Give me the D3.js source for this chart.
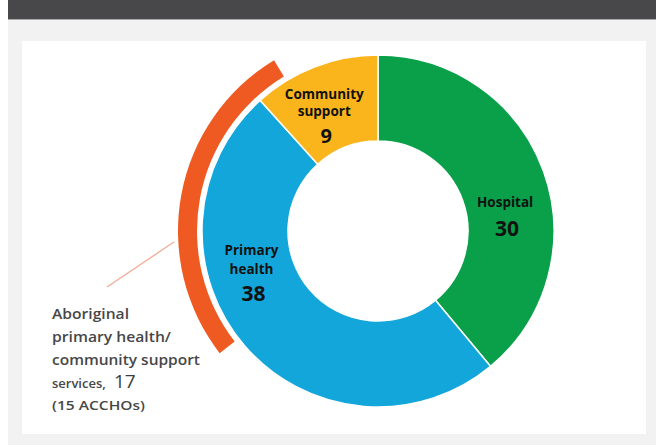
<!DOCTYPE html>
<html>
<head>
<meta charset="utf-8">
<script src="https://cdn.jsdelivr.net/npm/d3@7"></script>
<style>
  body { margin: 0; background: #fff; }
  svg { display: block; }
</style>
</head>
<body>
<svg id="drawspace" width="656" height="445"></svg>
<script>
let drawSpace = d3.select("#drawspace");

// services by type
let categories = ["Hospital", "Primary health", "Community support"];
let labelLines = [["Hospital"], ["Primary", "health"], ["Community", "support"]];
let values = [30, 38, 9];
let colors = ["#0aa04a", "#13a6da", "#f9b51b"];

// Aboriginal services arc, placed on the same count scale (start/end along the ring)
let aboriginalValue = 17;
let aboriginalNote = "(15 ACCHOs)";
let aboriginalLines = ["Aboriginal", "primary health/", "community support", "services,"];
let aboriginalSpan = [49.7, 70.3];

let drawSpaceW = 656;
let drawSpaceH = 445;

// page frame
drawSpace.append("rect")
  .attr("x", 8).attr("y", 0)
  .attr("width", drawSpaceW - 8).attr("height", drawSpaceH)
  .attr("fill", "#f2f2f2");
drawSpace.append("rect")
  .attr("x", 8).attr("y", 0)
  .attr("width", drawSpaceW - 8).attr("height", 19)
  .attr("fill", "#48484a");
drawSpace.append("rect")
  .attr("x", 8).attr("y", 19)
  .attr("width", drawSpaceW - 8).attr("height", 1)
  .attr("fill", "#a8a8a8");
drawSpace.append("rect")
  .attr("x", 22).attr("y", 41)
  .attr("width", 624).attr("height", 393)
  .attr("fill", "#ffffff");

let cx = 378, cy = 231;
let total = d3.sum(values);

let angle = d3.scaleLinear().domain([0, total]).range([0, 2 * Math.PI]);

let pie = d3.pie().sort(null).value(d => d.value)
  .startAngle(0).endAngle(2 * Math.PI);

let slices = pie(values.map((v, i) => ({ name: categories[i], value: v, lines: labelLines[i], color: colors[i] })));

let arc = d3.arc().innerRadius(90).outerRadius(176);

let g = drawSpace.append("g").attr("transform", `translate(${cx},${cy})`);

g.selectAll("path.slice")
  .data(slices)
  .enter()
  .append("path")
  .attr("class", "slice")
  .attr("d", arc)
  .attr("fill", d => d.data.color)
  .attr("stroke", "#ffffff")
  .attr("stroke-width", 1.5)
  .append("title")
  .text(d => `${d.data.name}: ${d.data.value}`);

// label positions inside each slice
let labelArc = d3.arc().innerRadius(133).outerRadius(133);
let labelOffset = {
  "Hospital": [2, 23],
  "Primary health": [-26, -42],
  "Community support": [-6, 11]
};
let lineGap = { "Hospital": 17, "Primary health": 19, "Community support": 16.5 };

slices.forEach(d => {
  let c = labelArc.centroid(d);
  let off = labelOffset[d.data.name];
  let lx = c[0] + off[0], ly = c[1] + off[1];
  let n = d.data.lines.length;
  let t = g.append("g").attr("transform", `translate(${lx},${ly})`);
  d.data.lines.forEach((line, i) => {
    t.append("text")
      .attr("x", 0)
      .attr("y", (i - n + 1) * lineGap[d.data.name] - 2)
      .attr("text-anchor", "middle")
      .attr("font-family", "Open Sans, sans-serif")
      .attr("font-weight", 700)
      .attr("font-size", 13.5)
      .attr("fill", "#111")
      .text(line);
  });
  t.append("text")
    .attr("x", 2)
    .attr("y", d.data.name == "Hospital" ? 27 : 25)
    .attr("text-anchor", "middle")
    .attr("font-family", "Open Sans, sans-serif")
    .attr("font-weight", 700)
    .attr("font-size", d.data.value < 10 ? 20 : 21)
    .attr("fill", "#111")
    .text(d.data.value);
});

// outer orange arc
let outerArc = d3.arc().innerRadius(181).outerRadius(200);
g.append("path")
  .attr("d", outerArc({ startAngle: angle(aboriginalSpan[0]), endAngle: angle(aboriginalSpan[1]) }))
  .attr("fill", "#ef5a22");

// leader line
let la = angle(57.1);
g.append("line")
  .attr("x1", 204 * Math.sin(la)).attr("y1", -204 * Math.cos(la))
  .attr("x2", 107 - cx).attr("y2", 287 - cy)
  .attr("stroke", "#f3ab95")
  .attr("stroke-width", 1.3);

// annotation text
let noteWidths = [77, 119, 148, null];
let note = drawSpace.append("g").attr("transform", "translate(52,0)");
aboriginalLines.forEach((line, i) => {
  let t = note.append("text")
    .attr("x", 0)
    .attr("y", 319 + i * 23)
    .attr("font-family", "Open Sans, sans-serif")
    .attr("font-weight", 600)
    .attr("font-size", noteWidths[i] ? 13.5 : 13)
    .attr("fill", "#474747")
    .text(line);
  if (noteWidths[i]) {
    t.attr("textLength", noteWidths[i]).attr("lengthAdjust", "spacingAndGlyphs");
  }
});
note.append("text")
  .attr("x", 62)
  .attr("y", 319 + 3 * 23)
  .attr("font-family", "Open Sans, sans-serif")
  .attr("font-size", 19)
  .attr("fill", "#3d3d3d")
  .text(aboriginalValue);
note.append("text")
  .attr("x", 0)
  .attr("y", 319 + 4 * 23 - 1)
  .attr("font-family", "Open Sans, sans-serif")
  .attr("font-weight", 600)
  .attr("font-size", 12.5)
  .attr("textLength", 93)
  .attr("lengthAdjust", "spacingAndGlyphs")
  .attr("fill", "#474747")
  .text(aboriginalNote);
</script>
</body>
</html>
